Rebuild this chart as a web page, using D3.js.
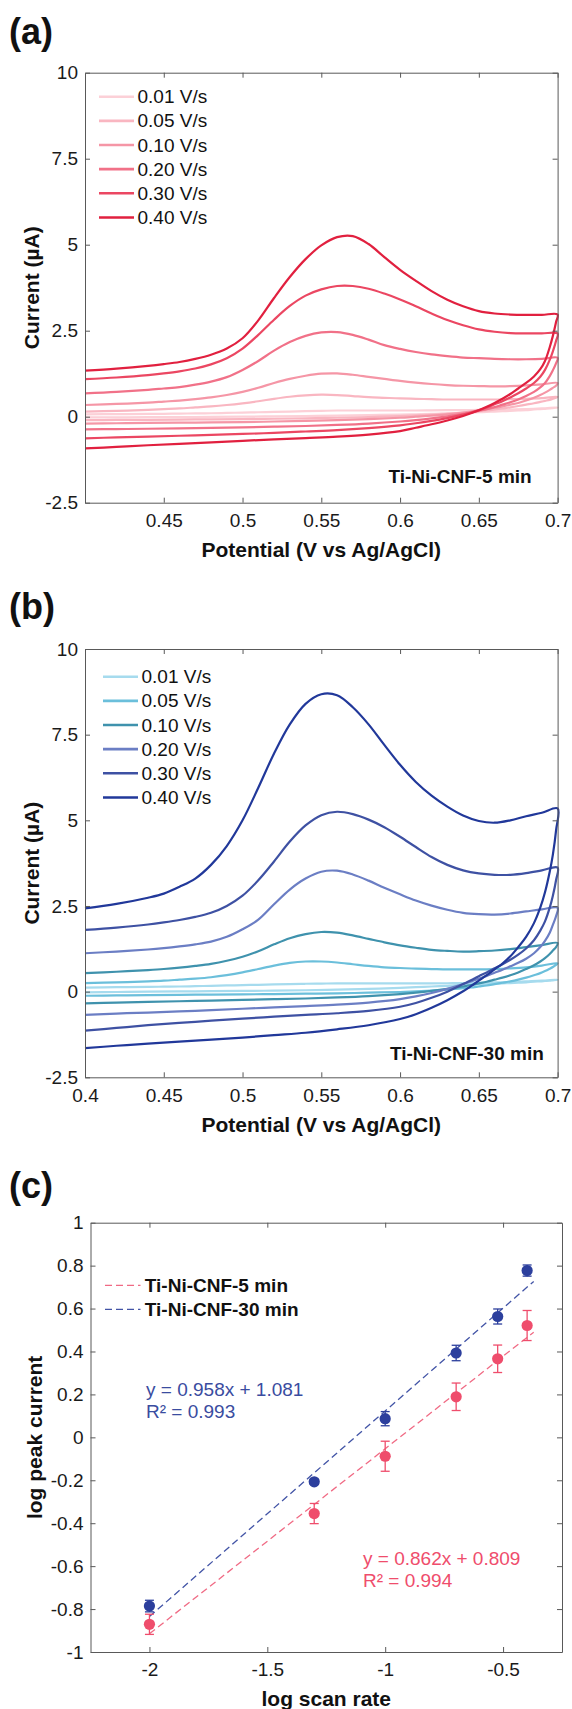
<!DOCTYPE html>
<html>
<head>
<meta charset="utf-8">
<script src="https://cdn.jsdelivr.net/npm/d3@7"></script>
<style>
  html, body { margin: 0; padding: 0; background: #fff; }
  svg text { font-family: "Liberation Sans", Arial, Helvetica, sans-serif; }
</style>
</head>
<body>
<svg id="fig" width="572" height="1709"></svg>
<script>
// ---- data ---------------------------------------------------------------
const scanRates = [0.01, 0.05, 0.10, 0.20, 0.30, 0.40];
const scanLabels = ["0.01 V/s", "0.05 V/s", "0.10 V/s", "0.20 V/s", "0.30 V/s", "0.40 V/s"];

// potentials (V vs Ag/AgCl) of the anodic sweep and of the return sweep
const fwdPotential = [0.40, 0.42, 0.44, 0.45, 0.46, 0.47, 0.48, 0.49, 0.50, 0.51, 0.52, 0.53, 0.54, 0.55, 0.56,
                      0.57, 0.58, 0.59, 0.60, 0.61, 0.62, 0.63, 0.64, 0.65, 0.66, 0.67, 0.68, 0.69, 0.70];
const revPotential = [0.699, 0.697, 0.695, 0.692, 0.689, 0.685, 0.68, 0.675, 0.67, 0.665, 0.66, 0.655, 0.65, 0.645,
                      0.64, 0.63, 0.62, 0.61, 0.60, 0.58, 0.56, 0.54, 0.52, 0.50, 0.47, 0.44, 0.42, 0.40];

// Ti-Ni-CNF-5 min, current (µA), one row per scan rate
const cv5Forward = [
  [0.07, 0.075, 0.08, 0.085, 0.09, 0.095, 0.10, 0.11, 0.12, 0.13, 0.14, 0.15, 0.16, 0.17, 0.18, 0.18, 0.18, 0.18, 0.18, 0.18, 0.185, 0.19, 0.19, 0.20, 0.20, 0.21, 0.22, 0.24, 0.27],
  [0.15, 0.17, 0.20, 0.22, 0.24, 0.27, 0.30, 0.34, 0.39, 0.45, 0.52, 0.58, 0.62, 0.64, 0.63, 0.60, 0.57, 0.55, 0.53, 0.52, 0.51, 0.50, 0.50, 0.50, 0.50, 0.51, 0.52, 0.54, 0.58],
  [0.34, 0.37, 0.41, 0.44, 0.47, 0.51, 0.56, 0.63, 0.72, 0.84, 0.98, 1.10, 1.19, 1.25, 1.26, 1.22, 1.16, 1.10, 1.04, 0.99, 0.95, 0.92, 0.90, 0.89, 0.88, 0.89, 0.91, 0.94, 0.98],
  [0.68, 0.72, 0.78, 0.82, 0.86, 0.93, 1.02, 1.15, 1.36, 1.62, 1.92, 2.17, 2.35, 2.45, 2.46, 2.38, 2.24, 2.08, 1.97, 1.88, 1.81, 1.76, 1.72, 1.70, 1.68, 1.67, 1.67, 1.68, 1.71],
  [1.09, 1.14, 1.21, 1.26, 1.32, 1.40, 1.52, 1.70, 1.98, 2.38, 2.82, 3.22, 3.52, 3.70, 3.80, 3.80, 3.72, 3.58, 3.41, 3.21, 3.00, 2.81, 2.66, 2.54, 2.47, 2.43, 2.42, 2.42, 2.42],
  [1.34, 1.40, 1.48, 1.53, 1.59, 1.68, 1.80, 1.98, 2.28, 2.80, 3.45, 4.06, 4.58, 4.98, 5.22, 5.25, 5.02, 4.64, 4.27, 3.95, 3.65, 3.40, 3.21, 3.07, 3.00, 2.97, 2.96, 2.96, 2.97]
];
const cv5Reverse = [
  [0.26, 0.25, 0.24, 0.23, 0.22, 0.21, 0.19, 0.18, 0.17, 0.16, 0.15, 0.14, 0.13, 0.12, 0.11, 0.10, 0.08, 0.07, 0.06, 0.05, 0.03, 0.02, 0.01, 0.00, -0.01, -0.015, -0.02, -0.02],
  [0.55, 0.52, 0.49, 0.46, 0.43, 0.39, 0.35, 0.31, 0.27, 0.24, 0.21, 0.18, 0.16, 0.14, 0.12, 0.09, 0.06, 0.04, 0.02, -0.01, -0.03, -0.05, -0.06, -0.07, -0.08, -0.09, -0.095, -0.10],
  [0.90, 0.84, 0.78, 0.70, 0.63, 0.55, 0.47, 0.40, 0.35, 0.30, 0.26, 0.22, 0.18, 0.15, 0.12, 0.07, 0.03, 0.00, -0.03, -0.07, -0.10, -0.12, -0.14, -0.16, -0.17, -0.18, -0.19, -0.20],
  [1.55, 1.35, 1.18, 0.98, 0.85, 0.72, 0.60, 0.50, 0.42, 0.35, 0.28, 0.22, 0.17, 0.12, 0.08, 0.01, -0.05, -0.10, -0.14, -0.20, -0.24, -0.27, -0.29, -0.31, -0.33, -0.35, -0.36, -0.37],
  [2.20, 1.90, 1.65, 1.36, 1.16, 0.98, 0.82, 0.68, 0.56, 0.45, 0.36, 0.27, 0.19, 0.12, 0.06, -0.04, -0.12, -0.19, -0.25, -0.33, -0.39, -0.43, -0.47, -0.50, -0.54, -0.58, -0.60, -0.63],
  [2.75, 2.35, 2.02, 1.62, 1.38, 1.17, 0.98, 0.82, 0.66, 0.52, 0.40, 0.29, 0.19, 0.10, 0.02, -0.11, -0.22, -0.32, -0.42, -0.52, -0.58, -0.62, -0.66, -0.70, -0.77, -0.83, -0.88, -0.92]
];

// Ti-Ni-CNF-30 min, current (µA), one row per scan rate
const cv30Forward = [
  [0.12, 0.13, 0.14, 0.145, 0.15, 0.16, 0.17, 0.18, 0.19, 0.20, 0.21, 0.22, 0.23, 0.235, 0.24, 0.24, 0.24, 0.24, 0.24, 0.24, 0.24, 0.245, 0.25, 0.26, 0.27, 0.28, 0.30, 0.32, 0.35],
  [0.25, 0.27, 0.30, 0.32, 0.35, 0.38, 0.42, 0.48, 0.56, 0.66, 0.76, 0.84, 0.88, 0.88, 0.85, 0.80, 0.75, 0.71, 0.69, 0.67, 0.66, 0.65, 0.65, 0.65, 0.66, 0.68, 0.71, 0.76, 0.83],
  [0.54, 0.58, 0.63, 0.66, 0.70, 0.75, 0.81, 0.90, 1.02, 1.18, 1.38, 1.56, 1.68, 1.74, 1.72, 1.64, 1.54, 1.44, 1.35, 1.28, 1.22, 1.19, 1.17, 1.18, 1.20, 1.24, 1.30, 1.36, 1.42],
  [1.12, 1.17, 1.23, 1.27, 1.32, 1.38, 1.46, 1.60, 1.82, 2.10, 2.55, 2.98, 3.30, 3.50, 3.53, 3.42, 3.24, 3.03, 2.84, 2.66, 2.51, 2.39, 2.30, 2.26, 2.25, 2.28, 2.34, 2.40, 2.45],
  [1.80, 1.87, 1.96, 2.02, 2.09, 2.18, 2.30, 2.50, 2.80, 3.25, 3.80, 4.38, 4.85, 5.15, 5.25, 5.18, 5.02, 4.80, 4.52, 4.22, 3.93, 3.70, 3.54, 3.45, 3.41, 3.41, 3.46, 3.54, 3.62],
  [2.43, 2.56, 2.74, 2.86, 3.06, 3.30, 3.70, 4.25, 5.00, 5.95, 6.95, 7.80, 8.40, 8.68, 8.65, 8.30, 7.80, 7.20, 6.62, 6.12, 5.72, 5.40, 5.14, 4.98, 4.93, 5.00, 5.12, 5.22, 5.35]
];
const cv30Reverse = [
  [0.34, 0.33, 0.32, 0.31, 0.30, 0.29, 0.27, 0.26, 0.25, 0.24, 0.23, 0.22, 0.21, 0.20, 0.19, 0.17, 0.15, 0.13, 0.11, 0.08, 0.06, 0.04, 0.03, 0.02, 0.01, 0.00, -0.01, -0.02],
  [0.78, 0.72, 0.67, 0.60, 0.54, 0.48, 0.41, 0.35, 0.30, 0.26, 0.22, 0.18, 0.15, 0.12, 0.10, 0.06, 0.03, 0.01, -0.01, -0.03, -0.05, -0.06, -0.07, -0.08, -0.09, -0.10, -0.11, -0.12],
  [1.30, 1.20, 1.10, 0.98, 0.88, 0.77, 0.66, 0.56, 0.48, 0.41, 0.35, 0.29, 0.24, 0.19, 0.15, 0.08, 0.02, -0.03, -0.07, -0.13, -0.17, -0.20, -0.22, -0.24, -0.27, -0.30, -0.32, -0.34],
  [2.20, 1.95, 1.72, 1.48, 1.30, 1.12, 0.96, 0.84, 0.74, 0.64, 0.55, 0.46, 0.38, 0.30, 0.22, 0.08, -0.04, -0.14, -0.22, -0.32, -0.38, -0.42, -0.46, -0.50, -0.56, -0.61, -0.64, -0.68],
  [3.25, 2.80, 2.45, 2.05, 1.78, 1.50, 1.26, 1.08, 0.93, 0.80, 0.68, 0.56, 0.45, 0.33, 0.22, 0.00, -0.18, -0.33, -0.44, -0.56, -0.63, -0.68, -0.73, -0.79, -0.88, -0.98, -1.06, -1.14],
  [4.70, 4.00, 3.50, 2.90, 2.45, 2.00, 1.60, 1.30, 1.03, 0.82, 0.65, 0.48, 0.32, 0.16, 0.01, -0.25, -0.47, -0.66, -0.80, -0.98, -1.10, -1.20, -1.27, -1.34, -1.43, -1.52, -1.58, -1.65]
];

const redShades  = ["#fcd0d7", "#f9b6c1", "#f596a6", "#f17188", "#eb4762", "#e1203f"];
const blueShades = ["#a6dbee", "#6bbfdb", "#3f92ad", "#6b7ec4", "#3e51a3", "#21389a"];

// peak current vs scan rate (log-log)
const peak5  = [-0.871, -0.355, -0.088, 0.189, 0.366, 0.521];
const err5   = [0.047, 0.047, 0.070, 0.064, 0.064, 0.070];
const peak30 = [-0.786, -0.207, 0.087, 0.393, 0.563, 0.777];
const err30  = [0.027, 0.012, 0.033, 0.036, 0.035, 0.026];
const fit5   = { slope: 0.862, intercept: 0.809, r2: "0.994" };
const fit30  = { slope: 0.958, intercept: 1.081, r2: "0.993" };
const fitSpan = [-2, -0.37];

const cvYTicks = [-2.5, 0, 2.5, 5, 7.5, 10];
const cvXTicksA = [0.45, 0.5, 0.55, 0.6, 0.65, 0.7];
const cvXTicksB = [0.4, 0.45, 0.5, 0.55, 0.6, 0.65, 0.7];
const logYTicks = [-1, -0.8, -0.6, -0.4, -0.2, 0, 0.2, 0.4, 0.6, 0.8, 1];
const logXTicks = [-2, -1.5, -1, -0.5];

// ---- drawing ------------------------------------------------------------
const svg = d3.select("#fig");
const fmt = v => String(v).replace("\u2212", "-");
const AXIS = "#595959";
const TICK_FONT = 19;

// boxed axes with inward ticks on all four sides
function frame(x, y, xTicks, yTicks) {
  const g = svg.append("g");
  const [x0, x1] = x.range();
  const [y0, y1] = y.range();
  const styleAxis = sel => {
    sel.selectAll("path.domain").attr("stroke", AXIS).attr("stroke-width", 1);
    sel.selectAll(".tick line").attr("stroke", AXIS).attr("stroke-width", 1);
    sel.selectAll("text").attr("font-size", TICK_FONT).attr("fill", "#1a1a1a")
       .attr("font-family", "Liberation Sans, Arial, sans-serif");
  };
  g.append("g").attr("transform", `translate(0,${y0})`)
    .call(d3.axisBottom(x).tickValues(xTicks).tickSizeInner(-5).tickSizeOuter(0)
      .tickPadding(11).tickFormat(fmt)).call(styleAxis);
  g.append("g").attr("transform", `translate(0,${y1})`)
    .call(d3.axisTop(x).tickValues(xTicks).tickSizeInner(-5).tickSizeOuter(0).tickFormat(""))
    .call(styleAxis);
  g.append("g").attr("transform", `translate(${x0},0)`)
    .call(d3.axisLeft(y).tickValues(yTicks).tickSizeInner(-5).tickSizeOuter(0)
      .tickPadding(7).tickFormat(fmt)).call(styleAxis);
  g.append("g").attr("transform", `translate(${x1},0)`)
    .call(d3.axisRight(y).tickValues(yTicks).tickSizeInner(-5).tickSizeOuter(0).tickFormat(""))
    .call(styleAxis);
  return g;
}

function panelLabel(txt, x, y) {
  svg.append("text").attr("x", x).attr("y", y).text(txt)
    .attr("font-size", 36).attr("font-weight", "bold").attr("fill", "#111");
}

function axisTitles(x, y, xt, yt, xTitleY, yTitleX) {
  const [x0, x1] = x.range();
  const [y0, y1] = y.range();
  svg.append("text").attr("x", (x0 + x1) / 2).attr("y", xTitleY)
    .attr("text-anchor", "middle").attr("dominant-baseline", "central")
    .attr("font-size", 21).attr("font-weight", "bold").attr("fill", "#111").text(xt);
  svg.append("text")
    .attr("transform", `translate(${yTitleX},${(y0 + y1) / 2}) rotate(-90)`)
    .attr("text-anchor", "middle").attr("dominant-baseline", "central")
    .attr("font-size", 21).attr("font-weight", "bold").attr("fill", "#111").text(yt);
}

// cyclic voltammogram panel: one closed loop per scan rate
function cvPanel(opts) {
  const x = d3.scaleLinear().domain([0.4, 0.7]).range([85, 557.6]);
  const y = d3.scaleLinear().domain([-2.5, 10]).range(opts.yRange);
  const line = d3.line().x(d => x(d[0])).y(d => y(d[1])).curve(d3.curveCatmullRom.alpha(0.5));

  const curves = svg.append("g");
  opts.fwd.forEach((row, i) => {
    const pts = fwdPotential.map((v, k) => [v, row[k]])
      .concat(revPotential.map((v, k) => [v, opts.rev[i][k]]));
    curves.append("path").attr("d", line(pts)).attr("fill", "none")
      .attr("stroke", opts.colors[i]).attr("stroke-width", 2.2)
      .attr("stroke-linejoin", "round");
  });

  frame(x, y, opts.xTicks, cvYTicks);

  const lg = svg.append("g");
  scanLabels.forEach((lab, i) => {
    const yy = opts.legendY + i * 24.15;
    lg.append("line").attr("x1", opts.legendX).attr("x2", opts.legendX + 35)
      .attr("y1", yy).attr("y2", yy).attr("stroke", opts.colors[i]).attr("stroke-width", 2.6);
    lg.append("text").attr("x", opts.legendX + 38.5).attr("y", yy)
      .attr("dominant-baseline", "central").attr("font-size", TICK_FONT).attr("fill", "#111").text(lab);
  });

  svg.append("text").attr("x", opts.tagX).attr("y", opts.tagY)
    .attr("dominant-baseline", "central").attr("font-size", 19).attr("font-weight", "bold")
    .attr("fill", "#111").text(opts.tag);

  axisTitles(x, y, "Potential (V vs Ag/AgCl)", "Current (\u00b5A)", opts.yRange[0] + 47, 31);
}

panelLabel("(a)", 9, 44);
cvPanel({ yRange: [502.7, 72.7], fwd: cv5Forward, rev: cv5Reverse, colors: redShades,
  xTicks: cvXTicksA, legendX: 99, legendY: 96.7, tag: "Ti-Ni-CNF-5 min", tagX: 388.5, tagY: 476.7 });

panelLabel("(b)", 9, 619);
cvPanel({ yRange: [1077.3, 649], fwd: cv30Forward, rev: cv30Reverse, colors: blueShades,
  xTicks: cvXTicksB, legendX: 103, legendY: 676.7, tag: "Ti-Ni-CNF-30 min", tagX: 390, tagY: 1053.3 });

// ---- (c) log peak current vs log scan rate -------------------------------
panelLabel("(c)", 9, 1197.5);
{
  const x = d3.scaleLinear().domain([-2.25, -0.25]).range([90.5, 562]);
  const y = d3.scaleLinear().domain([-1, 1]).range([1652, 1222.7]);
  const logRate = scanRates.map(r => Math.log10(r));

  const RED = "#ef4d6c", BLUE = "#2c3f9d";
  const RED_FIT = "#f06a84", BLUE_FIT = "#4254a6";

  const series = [
    { peak: peak5, err: err5, fit: fit5, color: RED, fitColor: RED_FIT },
    { peak: peak30, err: err30, fit: fit30, color: BLUE, fitColor: BLUE_FIT }
  ];

  const plot = svg.append("g");
  series.forEach(s => {
    plot.append("line")
      .attr("x1", x(fitSpan[0])).attr("y1", y(s.fit.slope * fitSpan[0] + s.fit.intercept))
      .attr("x2", x(fitSpan[1])).attr("y2", y(s.fit.slope * fitSpan[1] + s.fit.intercept))
      .attr("stroke", s.fitColor).attr("stroke-width", 1.3).attr("stroke-dasharray", "7,4");
  });
  series.forEach(s => {
    const g = plot.append("g").attr("stroke", s.color).attr("stroke-width", 1.3);
    s.peak.forEach((p, i) => {
      const cx = x(logRate[i]);
      g.append("line").attr("x1", cx).attr("x2", cx)
        .attr("y1", y(p - s.err[i])).attr("y2", y(p + s.err[i]));
      [p - s.err[i], p + s.err[i]].forEach(v => {
        g.append("line").attr("x1", cx - 4.5).attr("x2", cx + 4.5)
          .attr("y1", y(v)).attr("y2", y(v));
      });
    });
    plot.selectAll(null).data(s.peak).enter().append("circle")
      .attr("cx", (d, i) => x(logRate[i])).attr("cy", d => y(d)).attr("r", 5.6)
      .attr("fill", s.color);
  });

  frame(x, y, logXTicks, logYTicks);

  // legend
  const legend = [["Ti-Ni-CNF-5 min", RED_FIT], ["Ti-Ni-CNF-30 min", BLUE_FIT]];
  legend.forEach(([lab, col], i) => {
    const yy = 1285.3 + i * 24;
    svg.append("line").attr("x1", 105).attr("x2", 140.5).attr("y1", yy).attr("y2", yy)
      .attr("stroke", col).attr("stroke-width", 1.3).attr("stroke-dasharray", "7,4");
    svg.append("text").attr("x", 144.8).attr("y", yy).attr("dominant-baseline", "central")
      .attr("font-size", 19).attr("font-weight", "bold").attr("fill", "#111").text(lab);
  });

  // fit equations
  const eq = (fit, x0, y0, col) => {
    svg.append("text").attr("x", x0).attr("y", y0).attr("dominant-baseline", "central")
      .attr("font-size", 19).attr("fill", col)
      .text(`y = ${fit.slope.toFixed(3)}x + ${fit.intercept.toFixed(3)}`);
    svg.append("text").attr("x", x0).attr("y", y0 + 22.4).attr("dominant-baseline", "central")
      .attr("font-size", 19).attr("fill", col).text("R\u00b2 = " + fit.r2);
  };
  eq(fit30, 146, 1389.3, "#3a4ca0");
  eq(fit5, 363, 1558.3, RED);

  axisTitles(x, y, "log scan rate", "log peak current", 1698, 34);
}
</script>
</body>
</html>
